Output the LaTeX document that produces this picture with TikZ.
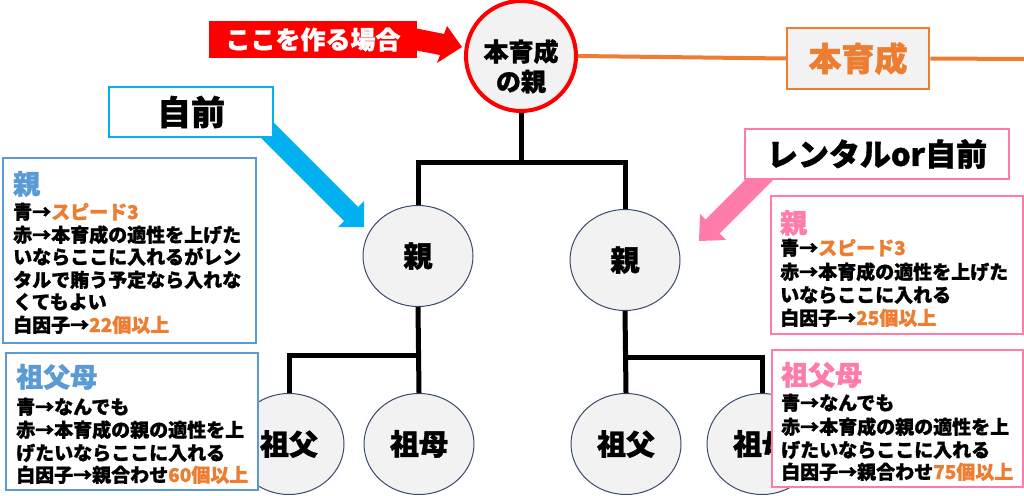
\documentclass[tikz,border=0pt]{standalone}
\usepackage{fontspec}
\setmainfont{Noto Sans CJK JP}[BoldFeatures={FakeBold=1.2}]
\usetikzlibrary{shapes.geometric}
\definecolor{blueT}{HTML}{5B9BD5}
\definecolor{pinkT}{HTML}{FF7BAC}
\definecolor{orng}{HTML}{ED7D31}
\definecolor{cyanA}{HTML}{00B0F0}
\definecolor{grayf}{HTML}{F2F2F2}
\definecolor{edgec}{HTML}{3B4A6B}
\definecolor{redA}{HTML}{FF0000}
\tikzset{
  body/.style={anchor=base west, inner sep=0pt, font=\bfseries\fontsize{19}{19}\selectfont},
  ttl/.style={anchor=base west, inner sep=0pt, font=\bfseries\fontsize{27}{27}\selectfont},
  person/.style={ellipse, draw=edgec, line width=1pt, fill=grayf, minimum width=110pt, minimum height=101pt, inner sep=0pt, font=\bfseries\fontsize{29}{29}\selectfont},
  conn/.style={line width=5pt, draw=black},
  infobox/.style={rectangle, fill=white, line width=2.5pt, inner sep=0pt}
}
\begin{document}
\begin{tikzpicture}[x=1pt,y=-1pt]
\useasboundingbox (0,0) rectangle (1024,495);
\fill[white] (0,0) rectangle (1024,495);

% people
\node[circle, draw=redA, line width=4pt, fill=grayf, minimum size=110pt, inner sep=0pt] (top) at (521,56) {};
\node[anchor=base, inner sep=0pt, font=\bfseries\fontsize{25}{25}\selectfont] (topt1) at (521,61) {本育成};
\node[anchor=base, inner sep=0pt, font=\bfseries\fontsize{25}{25}\selectfont] (topt2) at (521,91) {の親};

\node[person] (pL) at (418,256) {親};
\node[person] (pR) at (625,260) {親};
\node[person] (gfL) at (289,444) {祖父};
\node[person] (gmL) at (419,444) {祖母};
\node[person] (gfR) at (626,444) {祖父};
\node[person] (gmR) at (762,444) {祖母};

% connectors
\coordinate (j1) at (521,162);
\coordinate (j2) at (419,355);
\coordinate (j3) at (626,357);
\draw[conn] (top.south) -- (j1);
\draw[conn] (pL.north) |- (j1) -| (pR.north);
\draw[conn] (pL.south) -- (gmL.north);
\draw[conn] (gfL.north) |- (j2);
\draw[conn] (pR.south) -- (gfR.north);
\draw[conn] (gmR.north) |- (j3);

% orange line and label
\node[rectangle, fill=grayf, draw=orng, line width=2.5pt, minimum width=142pt, minimum height=61pt, inner sep=0pt, text=orng, font=\bfseries\fontsize{33}{33}\selectfont] (hon) at (858,58.5) {本育成};
\coordinate (oend) at (1024,59);
\draw[orng, line width=4pt] (top.east) -- (hon.west);
\draw[orng, line width=4pt] (hon.east) -- (oend);

% red arrow and label
\fill[redA] (414,28) -- (444,34) -- (447,26) -- (462,47) -- (437,63) -- (440,55) -- (414,50) -- cycle;
\node[rectangle, fill=redA, minimum width=208pt, minimum height=37pt, inner sep=0pt, text=white, font=\bfseries\fontsize{25}{25}\selectfont] (koko) at (313,39.5) {ここを作る場合};

% blue arrow
\fill[cyanA] (260,109) -- (358,207) -- (364,201) -- (364,227) -- (338,227) -- (344,221) -- (246,123) -- cycle;
% pink arrow
\fill[pinkT] (783,170) -- (719.5,233.5) -- (726,240) -- (699,241) -- (700,214) -- (705.5,219.5) -- (769,156) -- cycle;

% label boxes
\node[infobox, draw=cyanA, minimum width=164pt, minimum height=50pt, font=\bfseries\fontsize{34}{34}\selectfont] (jimae) at (191,112) {自前};
\node[infobox, draw=pinkT, minimum width=264pt, minimum height=50pt, font=\bfseries\fontsize{31}{31}\selectfont] (rent) at (877,154) {レンタルor自前};

% info boxes
\node[infobox, draw=blueT, minimum width=253pt, minimum height=185pt] (boxPL) at (129.5,250.5) {};
\node[infobox, draw=blueT, minimum width=252pt, minimum height=137pt] (boxGL) at (132,421.5) {};
\node[infobox, draw=pinkT, minimum width=252pt, minimum height=138pt] (boxPR) at (897,265) {};
\node[infobox, draw=pinkT, minimum width=251pt, minimum height=137pt] (boxGR) at (897.5,418.5) {};

% left parent text
\node[ttl, text=blueT, font=\bfseries\fontsize{27}{27}\selectfont] (tPL) at (13,194) {親};
\node[body] (a1) at (13,219) {青→\textcolor{orng}{スピード3}};
\node[body] (a2) at (13,242) {赤→本育成の適性を上げた};
\node[body] (a3) at (13,264) {いならここに入れるがレン};
\node[body] (a4) at (13,287) {タルで賄う予定なら入れな};
\node[body] (a5) at (13,309) {くてもよい};
\node[body] (a6) at (13,332) {白因子→\textcolor{orng}{22個以上}};

% left grandparents text
\node[ttl, text=blueT] (tGL) at (16,387) {祖父母};
\node[body] (b1) at (16,414) {青→なんでも};
\node[body] (b2) at (16,437) {赤→本育成の親の適性を上};
\node[body] (b3) at (16,460) {げたいならここに入れる};
\node[body] (b4) at (16,482) {白因子→親合わせ\textcolor{orng}{60個以上}};

% right parent text
\node[ttl, text=pinkT, font=\bfseries\fontsize{27}{27}\selectfont] (tPR) at (780,233) {親};
\node[body] (c1) at (780,255) {青→\textcolor{orng}{スピード3}};
\node[body] (c2) at (780,279) {赤→本育成の適性を上げた};
\node[body] (c3) at (780,302) {いならここに入れる};
\node[body] (c4) at (780,325) {白因子→\textcolor{orng}{25個以上}};

% right grandparents text
\node[ttl, text=pinkT] (tGR) at (781,385) {祖父母};
\node[body] (d1) at (781,410) {青→なんでも};
\node[body] (d2) at (781,434) {赤→本育成の親の適性を上};
\node[body] (d3) at (781,457) {げたいならここに入れる};
\node[body] (d4) at (781,479) {白因子→親合わせ\textcolor{orng}{75個以上}};
\end{tikzpicture}
\end{document}
